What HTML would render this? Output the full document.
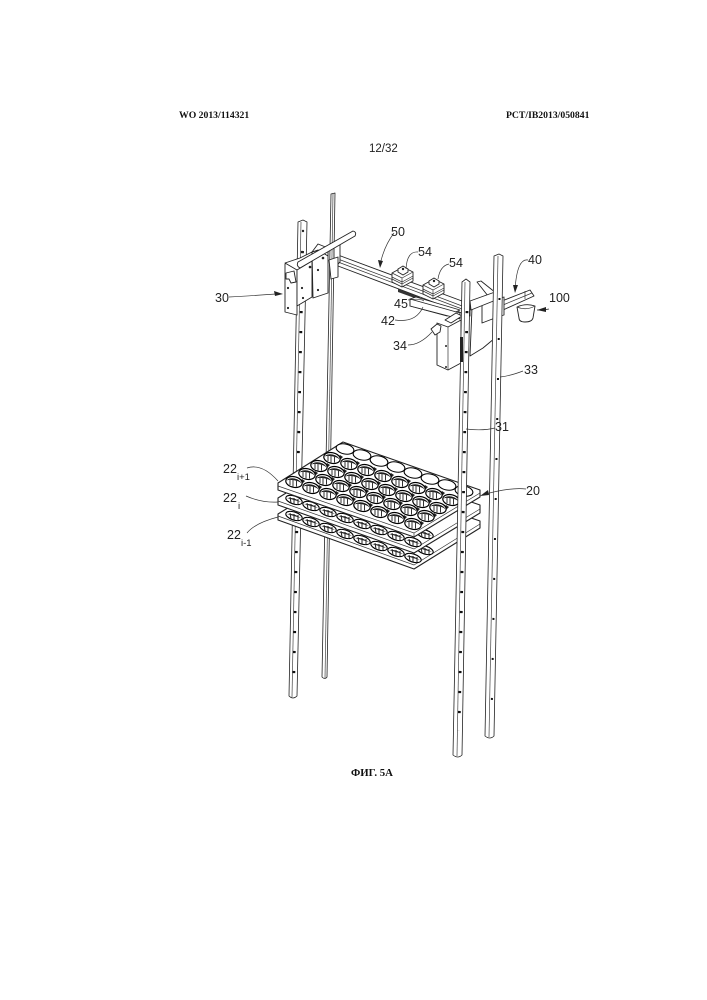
<!DOCTYPE html>
<html><head><meta charset="utf-8"><style>
html,body{margin:0;padding:0;background:#fff}
svg{display:block}
.h{font-family:"Liberation Serif",serif;font-weight:bold;font-size:9.7px;fill:#111}
.l{font-family:"Liberation Sans",sans-serif;font-size:12.5px;fill:#222}
.s{font-family:"Liberation Sans",sans-serif;font-size:9.5px;fill:#222}
.k{fill:#fff;stroke:#222;stroke-width:.9;stroke-linejoin:round}
.n{fill:none;stroke:#333;stroke-width:.7}
.t{fill:none;stroke:#444;stroke-width:.7}
.d{fill:#222;stroke:none}
</style></head><body>
<svg xmlns="http://www.w3.org/2000/svg" width="707" height="1000" viewBox="0 0 707 1000">
<defs>
<g id="hole"><path d="M8 -3L11 -1L9 1L6.500 -1Z" fill="#222"/><ellipse cx="0" cy="0" rx="8.300" ry="5.300" transform="rotate(12)" fill="#fff" stroke="#000" stroke-width="1.200"/><path d="M-7.500 -1.500A8 5 12 0 1 7.500 1.500A8 2.400 12 0 0 -7.500 -1.500Z" fill="#1a1a1a"/><path d="M-4 -3L-4 3M-1 -3L-1 4.500M2.500 -3L2.500 4.500" stroke="#333" stroke-width="1"/></g>
<g id="row"><use href="#hole" x="0" y="0"/><use href="#hole" x="17" y="6"/><use href="#hole" x="34" y="12"/><use href="#hole" x="51" y="18"/><use href="#hole" x="68" y="24"/><use href="#hole" x="85" y="30"/><use href="#hole" x="102" y="36"/><use href="#hole" x="119" y="42"/></g>
<g id="lh"><ellipse cx="0" cy="0" rx="8.500" ry="4" transform="rotate(18)" fill="#fff" stroke="#000" stroke-width="1.100"/><path d="M-4 -3L-3 3M0 -2L0 4M4 -1L4 4" stroke="#222" stroke-width="1"/><path d="M-7 -2Q0 -3 7 2Q0 0 -7 -2Z" fill="#222"/></g>
<g id="lrow"><use href="#lh" x="0" y="0"/><use href="#lh" x="17" y="6"/><use href="#lh" x="34" y="12"/><use href="#lh" x="51" y="18"/><use href="#lh" x="68" y="24"/><use href="#lh" x="85" y="30"/><use href="#lh" x="102" y="36"/><use href="#lh" x="119" y="42"/></g>
<g id="motor"><path class="k" d="M0 6L11 0L21 5L21 14L10 20L0 15Z"/><path class="n" d="M0 6L10 11L21 5M10 11V20M0 10L10 15L21 9M0 12L10 17L21 11"/><path class="k" d="M6 2L11 -1L16 2L16 5L11 8L6 5Z"/><circle class="d" cx="11" cy="2" r="1.200"/></g>
</defs>

<text class="h" x="179" y="118">WO 2013/114321</text>
<text class="h" x="506" y="118">PCT/IB2013/050841</text>
<text x="369" y="152" font-family="'Liberation Sans',sans-serif" font-size="11.5" fill="#222">12/32</text>
<text class="h" x="351" y="776" style="font-size:10.800px">ФИГ. 5А</text>

<!-- back posts -->
<path class="k" d="M331 194L335 193L327 677Q325 680 322 677Z" style="stroke-width:.8"/>
<path class="t" d="M333 194L325 678"/>
<path class="k" d="M298 222L303 220L307 222L297 696Q293 700 289 696Z" style="stroke-width:.8"/>
<path class="t" d="M301 222L292 697"/>
<line x1="302.500" y1="251" x2="293.500" y2="690" stroke="#111" stroke-width="2.800" stroke-dasharray="2.200 17.800"/>

<!-- beam 50 -->
<path class="k" d="M338 255L470 304L470 316L338 266Z"/>
<path class="n" d="M338 259L470 309M338 262L470 312"/>
<path class="k" d="M334 247L340 240L340 262L334 268Z"/>
<!-- left carriage -->
<path class="k" d="M285 264L297 259L297 315L285 312Z"/>
<path class="k" d="M297 267L312 258L312 297L297 306Z"/>
<path class="k" d="M312 252L328 248L328 293L313 298Z"/>
<path class="k" d="M285 263L297 270L312 261L312 252L300 258L297 259Z"/>
<path class="k" d="M312 252L318 244L328 248L328 256L318 250Z"/>
<path class="k" d="M329 260L338 257L338 277L331 279Z"/>
<path class="k" d="M298 262L353 231Q357 232 355 236L300 268Q296 266 298 262Z"/>
<path class="k" d="M286 273L294 271L296 282L291 283L289 279L286 279Z"/>
<g class="d"><circle cx="288" cy="288" r="1.100"/><circle cx="288" cy="308" r="1.100"/><circle cx="302" cy="288" r="1.100"/><circle cx="303" cy="298" r="1.100"/><circle cx="318" cy="270" r="1.100"/><circle cx="318" cy="290" r="1.100"/><circle cx="323" cy="258" r="1.300"/><circle cx="310" cy="267" r="1.300"/></g>
<circle class="d" cx="303" cy="231" r="1.200"/><circle class="d" cx="302" cy="252" r="1.200"/>

<!-- motors -->
<use href="#motor" x="392" y="267"/>
<use href="#motor" x="423" y="279"/>
<path d="M398 289L420 297L420 300L398 292Z" fill="#333"/>
<!-- plate 42 -->
<path class="k" d="M410 299L416 297L460 310L447 316L410 306Z"/>
<path class="k" d="M410 299L460 313L460 319L410 306Z"/>
<path class="k" d="M445 320L456 313L462 316L451 323Z"/>

<!-- right carriage rear -->
<path class="k" d="M472 308L482 305L482 323L495 318L495 338L483 348L470 356Z"/>
<path class="k" d="M477 282L481 281L496 293L496 300L492 301Z"/>
<path class="k" d="M470 301L495 292L496 300L471 310Z"/>
<path class="k" d="M437 323L448 327L461 320L461 363L448 370L437 365Z"/>
<path class="n" d="M448 327V370"/>
<path class="k" d="M431 329L437 324L441 326L440 332L435 335Z"/>
<circle class="d" cx="446" cy="346" r="1"/><circle class="d" cx="446" cy="367" r="1"/>

<!-- arm 40 & cup -->
<path class="k" d="M502 301L530 290L534 296L503 310Z"/>
<path class="n" d="M503 305L532 293"/>
<path class="k" d="M500 298L504 297L504 315L500 316Z"/>
<path class="k" d="M517 307Q526 303 535 306L533 318Q532 322 525 322Q519 322 519 318Z"/>
<path class="n" d="M517 307Q526 311 535 306"/>
<path class="n" d="M525 299V291"/>

<!-- tray 3 -->
<path class="k" d="M278 514L343 474L480 521L480 528L414 569L278 520Z" style="stroke-width:1.100"/>
<path class="n" d="M278 516L414 565L480 524"/>
<use href="#lrow" x="306" y="508"/>
<use href="#lrow" x="294" y="516"/>
<!-- tray 2 -->
<path class="k" d="M278 498L343 458L480 505L480 513L414 553L278 505Z" style="stroke-width:1.100"/>
<path class="n" d="M278 501L414 549L480 509"/>
<use href="#lrow" x="306" y="492"/>
<use href="#lrow" x="294" y="500"/>
<!-- tray 1 -->
<path class="k" d="M278 483L343 442L480 490L480 497L414 537L278 490Z" style="stroke-width:1.100"/>
<path class="n" d="M278 486L414 533L480 493M414 533V537"/>
<use href="#row" x="294" y="482"/>
<use href="#row" x="307" y="474"/>
<use href="#row" x="319" y="466"/>
<use href="#row" x="332" y="458"/>
<g fill="#fff" stroke="#000" stroke-width="1.100"><ellipse cx="345" cy="449" rx="9" ry="5" transform="rotate(12 345 449)"/><ellipse cx="362" cy="455" rx="9" ry="5" transform="rotate(12 362 455)"/><ellipse cx="379" cy="461" rx="9" ry="5" transform="rotate(12 379 461)"/><ellipse cx="396" cy="467" rx="9" ry="5" transform="rotate(12 396 467)"/><ellipse cx="413" cy="473" rx="9" ry="5" transform="rotate(12 413 473)"/><ellipse cx="430" cy="479" rx="9" ry="5" transform="rotate(12 430 479)"/><ellipse cx="447" cy="485" rx="9" ry="5" transform="rotate(12 447 485)"/><ellipse cx="464" cy="491" rx="9" ry="5" transform="rotate(12 464 491)"/></g>

<!-- front posts -->
<path class="k" d="M494 256L499 254L503 256L494 736Q490 740 485 736Z" style="stroke-width:.8"/>
<path class="t" d="M498 256L489 737"/>
<line x1="499.500" y1="298" x2="491.500" y2="720" stroke="#111" stroke-width="2" stroke-dasharray="2 38"/>
<path class="k" d="M462 282L466 279L470 282L462 755Q458 759 453 755Z" style="stroke-width:.8"/>
<path class="t" d="M465 282L457 756"/>
<line x1="467" y1="311" x2="459" y2="731" stroke="#111" stroke-width="2.800" stroke-dasharray="2.200 17.800"/>
<rect x="460" y="337" width="3" height="25" fill="#222"/>

<!-- leaders -->
<g class="n">
<path d="M229 297Q248 296 276 294"/>
<path d="M394 233Q384 246 380 265"/>
<path d="M418 252Q407 251 406 269"/>
<path d="M449 264Q440 266 438 279"/>
<path d="M528 260Q517 258 515 290"/>
<path d="M549 309Q545 310 537 310"/>
<path d="M408 300Q420 298 424 301"/>
<path d="M395 320Q416 323 423 307"/>
<path d="M408 345Q420 345 432 332"/>
<path d="M523 371Q510 376 500 377"/>
<path d="M495 428Q483 431 466 429"/>
<path d="M526 489Q510 487 482 495"/>
<path d="M247 468Q262 463 278 481"/>
<path d="M246 496Q262 503 278 502"/>
<path d="M247 533Q255 523 278 517"/>
</g>
<g class="d">
<path d="M283 294L274 291L275 296Z"/>
<path d="M380 268L378 260L383 261Z"/>
<path d="M515 293L513 285L518 285Z"/>
<path d="M537 310L546 307L546 312Z"/>
<path d="M480 496L488 490L489 495Z"/>
</g>

<text class="l" x="215" y="302">30</text>
<text class="l" x="391" y="236">50</text>
<text class="l" x="418" y="256">54</text>
<text class="l" x="449" y="267">54</text>
<text class="l" x="528" y="264">40</text>
<text class="l" x="549" y="302">100</text>
<text class="l" x="394" y="308">45</text>
<text class="l" x="381" y="325">42</text>
<text class="l" x="393" y="350">34</text>
<text class="l" x="524" y="374">33</text>
<text class="l" x="495" y="431">31</text>
<text class="l" x="526" y="495">20</text>
<text class="l" x="223" y="473">22</text><text class="s" x="237" y="480">i+1</text>
<text class="l" x="223" y="502">22</text><text class="s" x="238" y="509">i</text>
<text class="l" x="227" y="539">22</text><text class="s" x="241" y="546">i-1</text>
</svg>
</body></html>
